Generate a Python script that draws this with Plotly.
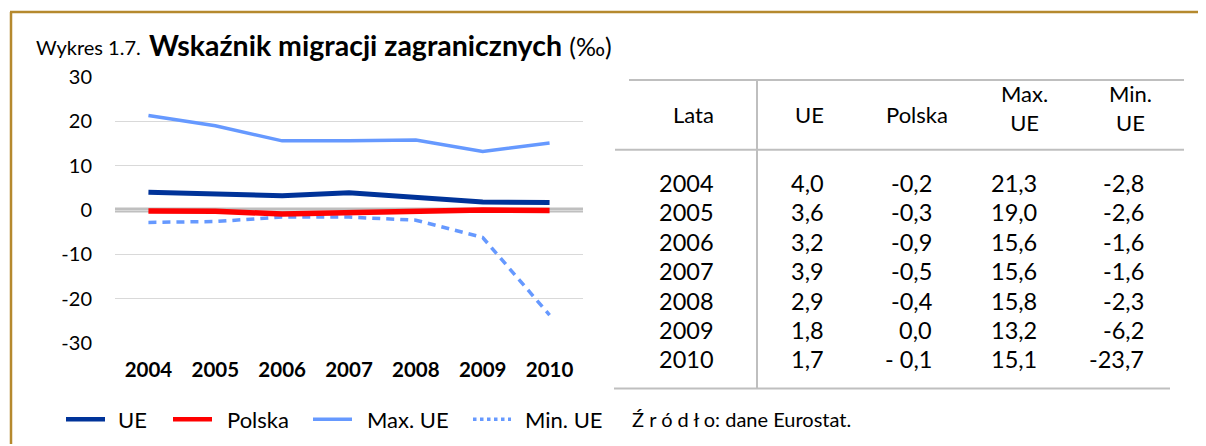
import plotly.graph_objects as go

years = ["2004", "2005", "2006", "2007", "2008", "2009", "2010"]
ue = [4.0, 3.6, 3.2, 3.9, 2.9, 1.8, 1.7]
polska = [-0.2, -0.3, -0.9, -0.5, -0.4, 0.0, -0.1]
max_ue = [21.3, 19.0, 15.6, 15.6, 15.8, 13.2, 15.1]
min_ue = [-2.8, -2.6, -1.6, -1.6, -2.3, -6.2, -23.7]
y_ticks = [30, 20, 10, 0, -10, -20, -30]

series_names = ["UE", "Polska", "Max. UE", "Min. UE"]
colors = ["#003399", "#FF0000", "#6699FF", "#6699FF"]

OFF = 8  # default body margin of the html page
W, H = 1206 - 2 * OFF, 446 - OFF - 2
PL, PR, PT, PB = 115, 583, 77, 343.5  # plot area in page pixels
FONT = "Lato"


def px(x):
    return (x - PL) / (PR - PL)


def py(y):
    return (PB - y) / (PB - PT)


fig = go.Figure()
fig.add_trace(go.Scatter(x=years, y=min_ue, mode="lines", name=series_names[3],
                         line=dict(color=colors[3], width=3.5, dash="8px,6px"), showlegend=False))
fig.add_trace(go.Scatter(x=years, y=max_ue, mode="lines", name=series_names[2],
                         line=dict(color=colors[2], width=3.5), showlegend=False))
fig.add_trace(go.Scatter(x=years, y=ue, mode="lines", name=series_names[0],
                         line=dict(color=colors[0], width=5), showlegend=False))
fig.add_trace(go.Scatter(x=years, y=polska, mode="lines", name=series_names[1],
                         line=dict(color=colors[1], width=5.5), showlegend=False))

shapes = []
annotations = []

# border (golden)
gold = "#B5892E"
shapes.append(dict(type="line", xref="paper", yref="paper", x0=px(10), x1=px(1206), y0=py(12), y1=py(12),
                   line=dict(color=gold, width=2.5)))
shapes.append(dict(type="line", xref="paper", yref="paper", x0=px(11), x1=px(11), y0=py(12), y1=py(446),
                   line=dict(color=gold, width=2.5)))

# zero line
shapes.append(dict(type="line", xref="paper", yref="y", x0=0, x1=1, y0=0, y1=0,
                   line=dict(color="#BFBFBF", width=5), layer="below"))

# title
annotations.append(dict(text="Wykres 1.7.", x=px(34), y=py(47), xref="paper", yref="paper",
                        xanchor="left", yanchor="middle", showarrow=False,
                        font=dict(family=FONT, size=20, color="#000")))
annotations.append(dict(text="<b>Wskaźnik migracji zagranicznych</b> <span style='font-size:25px'>(‰)</span>",
                        x=px(147), y=py(45),
                        xref="paper", yref="paper", xanchor="left", yanchor="middle", showarrow=False,
                        font=dict(family=FONT, size=28.5, color="#000")))

# legend (manual)
leg_y = py(420)
leg_items = [(66, 105, 116, 0, "solid", 4.5), (173, 212, 225, 1, "solid", 4.5),
             (313, 352, 365, 2, "solid", 3.5), (473, 511, 523, 3, "dot", 3.5)]
for x0, x1, tx, i, dash, w in leg_items:
    shapes.append(dict(type="line", xref="paper", yref="paper", x0=px(x0), x1=px(x1), y0=leg_y, y1=leg_y,
                       line=dict(color=colors[i], width=w, dash=dash)))
    annotations.append(dict(text=series_names[i], x=px(tx), y=leg_y, xref="paper", yref="paper",
                            xanchor="left", yanchor="middle", showarrow=False,
                            font=dict(family=FONT, size=22, color="#000")))
annotations.append(dict(text="Ź r ó d ł o: dane Eurostat.", x=px(630), y=leg_y, xref="paper", yref="paper",
                        xanchor="left", yanchor="middle", showarrow=False,
                        font=dict(family=FONT, size=20, color="#000")))

# table
rule = "#BFBFBF"
for x0, x1, yy in [(629, 1184, 80), (615, 1184, 150), (614, 1170, 389)]:
    shapes.append(dict(type="line", xref="paper", yref="paper", x0=px(x0), x1=px(x1), y0=py(yy), y1=py(yy),
                       line=dict(color=rule, width=2)))
shapes.append(dict(type="line", xref="paper", yref="paper", x0=px(757), x1=px(757), y0=py(80), y1=py(389),
                   line=dict(color=rule, width=2)))

headers = ["Lata", "UE", "Polska", "Max.<br>UE", "Min.<br>UE"]
head_x = [693, 809, 917, 1024, 1130]
head_y = [115, 115, 115, 108.5, 108.5]
for h, hx, hy in zip(headers, head_x, head_y):
    annotations.append(dict(text=h, x=px(hx), y=py(hy), xref="paper", yref="paper",
                            xanchor="center", yanchor="middle", showarrow=False, align="center",
                            font=dict(family=FONT, size=22, color="#000")))


def fmt(v):
    s = f"{v:.1f}".replace(".", ",")
    return "0,0" if s == "-0,0" else s


polska_text = [fmt(v) for v in polska]
polska_text[-1] = polska_text[-1].replace("-", "- ")
cols = [(686, "center", years),
        (826, "right", [fmt(v) for v in ue]),
        (934, "right", polska_text),
        (1039, "right", [fmt(v) for v in max_ue]),
        (1146, "right", [fmt(v) for v in min_ue])]
row_y0, row_dy = 183, 29.5
for cx, anchor, vals in cols:
    for r, t in enumerate(vals):
        annotations.append(dict(text=t, x=px(cx), y=py(row_y0 + r * row_dy), xref="paper", yref="paper",
                                xanchor=anchor, yanchor="middle", showarrow=False,
                                font=dict(family=FONT, size=23.5, color="#000")))

fig.update_layout(
    width=W, height=H, autosize=False,
    margin=dict(l=PL - OFF, r=W + OFF - PR, t=PT - OFF, b=H + OFF - PB, pad=0),
    paper_bgcolor="white", plot_bgcolor="white",
    showlegend=False,
    shapes=shapes, annotations=annotations,
    xaxis=dict(type="category", range=[-0.5, 6.5], showgrid=False, zeroline=False, showline=False,
               ticks="", tickfont=dict(family=FONT, size=20.5, color="#000", weight="bold"),
               ticklabelstandoff=12),
    yaxis=dict(range=[-30, 30], tickvals=y_ticks, ticktext=[str(v) for v in y_ticks],
               showgrid=True, gridcolor="#D9D9D9", gridwidth=1,
               zeroline=False, showline=False, ticks="",
               tickfont=dict(family=FONT, size=20, color="#000"), ticklabelstandoff=22),
)

fig.write_html("out.html")
